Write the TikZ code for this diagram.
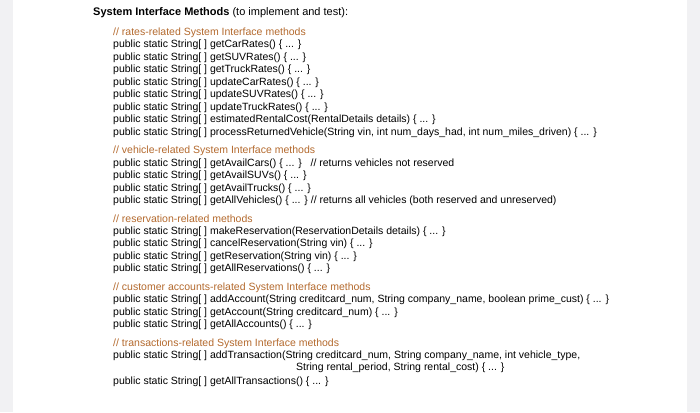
\documentclass[tikz,border=0pt]{standalone}
\usepackage{fontspec}
\setmainfont{Liberation Sans}
\begin{document}
\begin{tikzpicture}[x=1pt,y=-1pt,
  code/.style={anchor=base west,inner sep=0pt,font=\fontsize{10.5}{12}\selectfont},
  cmt/.style={code,text=cmtc}]
\definecolor{cmtc}{HTML}{B46A2E}
\definecolor{side}{HTML}{F1F1F3}
\useasboundingbox (0,0) rectangle (700,412);
\fill[side] (0,0) rectangle (700,412);
\fill[white] (13,0) rectangle (687,412);
\node[code,font=\fontsize{11}{13}\selectfont] (title) at (93,16) {\textbf{System Interface Methods} (to implement and test):};
\def\L#1#2#3{\node[code] (#1) at (113,#2) {#3};}
\def\C#1#2#3{\node[cmt] (#1) at (113,#2) {#3};}
\C{c1}{35}{// rates-related System Interface methods}
\L{a1}{47.5}{public static String[ ] getCarRates() \{ ... \}}
\L{a2}{60}{public static String[ ] getSUVRates() \{ ... \}}
\L{a3}{72.5}{public static String[ ] getTruckRates() \{ ... \}}
\L{a4}{85}{public static String[ ] updateCarRates() \{ ... \}}
\L{a5}{97.5}{public static String[ ] updateSUVRates() \{ ... \}}
\L{a6}{110}{public static String[ ] updateTruckRates() \{ ... \}}
\L{a7}{122.5}{public static String[ ] estimatedRentalCost(RentalDetails details) \{ ... \}}
\L{a8}{135}{public static String[ ] processReturnedVehicle(String vin, int num\_days\_had, int num\_miles\_driven) \{ ... \}}
\C{c2}{153}{// vehicle-related System Interface methods}
\L{b1}{166}{public static String[ ] getAvailCars() \{ ... \}\ \ \ // returns vehicles not reserved}
\L{b2}{178.5}{public static String[ ] getAvailSUVs() \{ ... \}}
\L{b3}{191}{public static String[ ] getAvailTrucks() \{ ... \}}
\L{b4}{203.5}{public static String[ ] getAllVehicles() \{ ... \}\ // returns all vehicles (both reserved and unreserved)}
\C{c3}{222}{// reservation-related methods}
\L{d1}{234}{public static String[ ] makeReservation(ReservationDetails details) \{ ... \}}
\L{d2}{246.5}{public static String[ ] cancelReservation(String vin) \{ ... \}}
\L{d3}{259}{public static String[ ] getReservation(String vin) \{ ... \}}
\L{d4}{271.5}{public static String[ ] getAllReservations() \{ ... \}}
\C{c4}{290.5}{// customer accounts-related System Interface methods}
\L{e1}{302.5}{public static String[ ] addAccount(String creditcard\_num, String company\_name, boolean prime\_cust) \{ ... \}}
\L{e2}{315}{public static String[ ] getAccount(String creditcard\_num) \{ ... \}}
\L{e3}{327.5}{public static String[ ] getAllAccounts() \{ ... \}}
\C{c5}{346}{// transactions-related System Interface methods}
\L{f1}{358}{public static String[ ] addTransaction(String creditcard\_num, String company\_name, int vehicle\_type,}
\node[code] (f2) at (296,370.5) {String rental\_period, String rental\_cost) \{ ... \}};
\L{f3}{384}{public static String[ ] getAllTransactions() \{ ... \}}
\end{tikzpicture}
\end{document}
